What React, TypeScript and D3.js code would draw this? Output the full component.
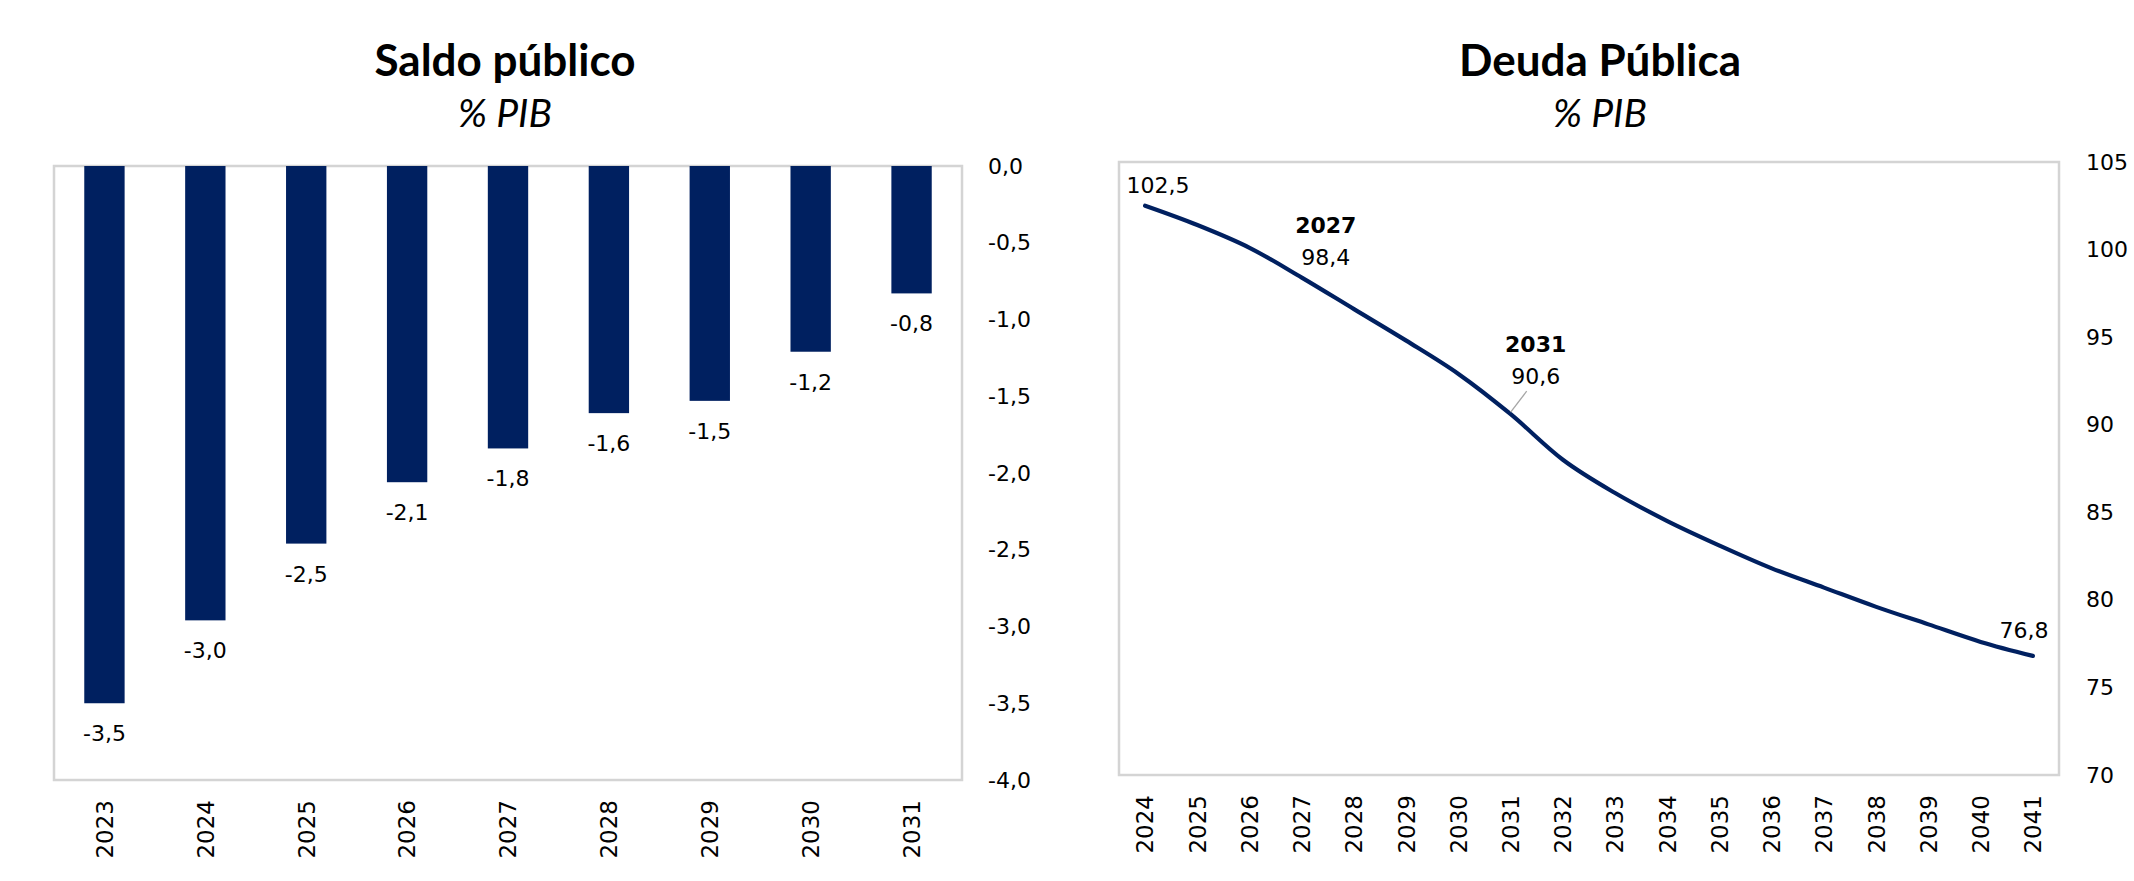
import { useEffect, useRef } from "react"
import * as d3 from "d3"

// Saldo público (% PIB)
const balanceYears = ["2023", "2024", "2025", "2026", "2027", "2028", "2029", "2030", "2031"]
const balanceValues = [-3.5, -2.96, -2.46, -2.06, -1.84, -1.61, -1.53, -1.21, -0.83]
const balanceTicks = [0, -0.5, -1, -1.5, -2, -2.5, -3, -3.5, -4]

// Deuda Pública (% PIB)
const debtYears = ["2024", "2025", "2026", "2027", "2028", "2029", "2030", "2031", "2032",
  "2033", "2034", "2035", "2036", "2037", "2038", "2039", "2040", "2041"]
const debtValues = [102.5, 101.4, 100.1, 98.4, 96.6, 94.8, 92.9, 90.6, 88.0,
  86.1, 84.5, 83.1, 81.8, 80.7, 79.6, 78.6, 77.6, 76.8]
const debtTicks = [105, 100, 95, 90, 85, 80, 75, 70]
const debtCallouts = ["2024", "2027", "2031", "2041"]
const debtCalloutTitled = ["2027", "2031"]

const NAVY = "#002060"
const BORDER = "#d4d4d4"
const TXT = "DejaVu Sans, Verdana, sans-serif"
const TITLE = "Lato, Calibri, sans-serif"

const comma = (v: number, d = 1) => d3.format(`.${d}f`)(v).replace(".", ",").replace("−", "-")

export default function App() {
  const ref = useRef<SVGSVGElement>(null)

  useEffect(() => {
    const svg = d3.select(ref.current)
    svg.selectAll("*").remove()

    const title = (cx: number, main: string) => {
      svg.append("text").attr("x", cx).attr("y", 76).attr("text-anchor", "middle")
        .attr("font-family", TITLE).attr("font-weight", 700).attr("font-size", 44)
        .attr("fill", "#000").text(main)
      svg.append("text").attr("x", cx).attr("y", 127).attr("text-anchor", "middle")
        .attr("font-family", TITLE).attr("font-style", "italic").attr("font-size", 39)
        .attr("fill", "#000").text("% PIB")
    }

    // ---------- left: bars ----------
    const L = { x0: 54, x1: 962, y0: 166, y1: 780 }
    title(505, "Saldo público")

    const xb = d3.scaleBand().domain(balanceYears).range([L.x0, L.x1]).paddingInner(0.6).paddingOuter(0.3)
    const yb = d3.scaleLinear().domain([0, -4]).range([L.y0, L.y1])

    svg.append("rect").attr("x", L.x0).attr("y", L.y0)
      .attr("width", L.x1 - L.x0).attr("height", L.y1 - L.y0)
      .attr("fill", "none").attr("stroke", BORDER).attr("stroke-width", 2.5)

    svg.append("g").selectAll("rect").data(balanceValues).join("rect")
      .attr("x", (d, i) => xb(balanceYears[i])!)
      .attr("y", yb(0))
      .attr("width", xb.bandwidth())
      .attr("height", d => yb(d) - yb(0))
      .attr("fill", NAVY)

    svg.append("g").selectAll("text").data(balanceValues).join("text")
      .attr("x", (d, i) => xb(balanceYears[i])! + xb.bandwidth() / 2)
      .attr("y", d => yb(d) + 38)
      .attr("text-anchor", "middle")
      .attr("font-family", TXT).attr("font-size", 22).attr("fill", "#000")
      .text(d => comma(d))

    const yAxisL = d3.axisRight(yb).tickValues(balanceTicks).tickSize(0).tickPadding(0).tickFormat(d => comma(+d))
    svg.append("g").attr("transform", `translate(988,0)`).call(yAxisL)
      .call(g => g.select(".domain").remove())
      .call(g => g.selectAll("text").attr("font-family", TXT).attr("font-size", 22).attr("fill", "#000"))

    svg.append("g").selectAll("text").data(balanceYears).join("text")
      .attr("transform", d => `translate(${xb(d)! + xb.bandwidth() / 2},800) rotate(-90)`)
      .attr("text-anchor", "end").attr("dy", "0.36em")
      .attr("font-family", TXT).attr("font-size", 23).attr("fill", "#000")
      .text(d => d)

    // ---------- right: line ----------
    const R = { x0: 1119, x1: 2059, y0: 162, y1: 775 }
    title(1600, "Deuda Pública")

    const xl = d3.scalePoint().domain(debtYears).range([R.x0, R.x1]).padding(0.5)
    const yl = d3.scaleLinear().domain([70, 105]).range([R.y1, R.y0])

    svg.append("rect").attr("x", R.x0).attr("y", R.y0)
      .attr("width", R.x1 - R.x0).attr("height", R.y1 - R.y0)
      .attr("fill", "none").attr("stroke", BORDER).attr("stroke-width", 2.5)

    const line = d3.line<number>()
      .x((d, i) => xl(debtYears[i])!)
      .y(d => yl(d))
      .curve(d3.curveMonotoneX)

    svg.append("path").datum(debtValues).attr("d", line)
      .attr("fill", "none").attr("stroke", NAVY).attr("stroke-width", 4.2)
      .attr("stroke-linecap", "round").attr("stroke-linejoin", "round")

    const yAxisR = d3.axisRight(yl).tickValues(debtTicks).tickSize(0).tickPadding(0).tickFormat(d3.format("d"))
    svg.append("g").attr("transform", `translate(2086,0)`).call(yAxisR)
      .call(g => g.select(".domain").remove())
      .call(g => g.selectAll("text").attr("font-family", TXT).attr("font-size", 22).attr("fill", "#000"))

    svg.append("g").selectAll("text").data(debtYears).join("text")
      .attr("transform", d => `translate(${xl(d)},795) rotate(-90)`)
      .attr("text-anchor", "end").attr("dy", "0.36em")
      .attr("font-family", TXT).attr("font-size", 23).attr("fill", "#000")
      .text(d => d)

    // callouts: label offsets from the point
    const offset: Record<string, [number, number]> = {
      "2024": [13, -21], "2027": [24, -21], "2031": [25, -38], "2041": [-9, -26]
    }
    debtCallouts.forEach(yr => {
      const i = debtYears.indexOf(yr)
      const px = xl(yr)!, py = yl(debtValues[i])
      const [dx, dy] = offset[yr]
      const g = svg.append("g").attr("font-family", TXT).attr("font-size", 22).attr("fill", "#000")
        .attr("text-anchor", "middle")
      g.append("text").attr("x", px + dx).attr("y", py + dy).attr("dy", "0.36em").text(comma(debtValues[i]))
      if (debtCalloutTitled.includes(yr)) {
        g.append("text").attr("x", px + dx).attr("y", py + dy - 32).attr("dy", "0.36em")
          .attr("font-weight", 700).text(yr)
      }
      if (yr === "2031") {
        svg.append("line").attr("x1", px + 16).attr("y1", py + dy + 15)
          .attr("x2", px).attr("y2", py - 2)
          .attr("stroke", "#a6a6a6").attr("stroke-width", 1.3)
      }
    })
  }, [])

  return (
    <svg ref={ref} width={2134} height={881} viewBox="0 0 2134 881"
      style={{ position: "absolute", left: 0, top: 0, background: "#fff" }} />
  )
}
